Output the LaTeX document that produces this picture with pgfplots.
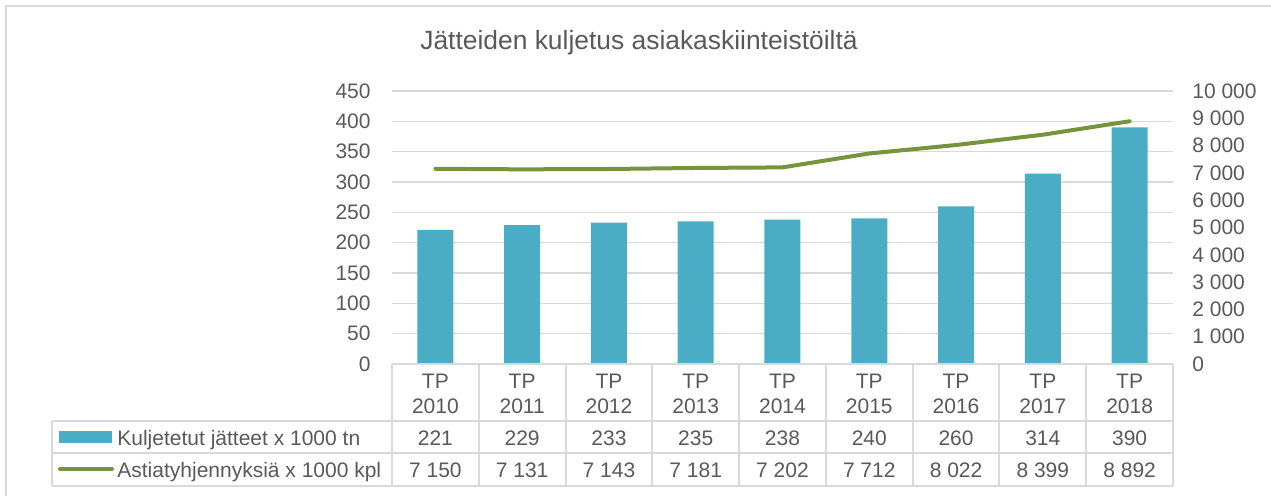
\documentclass[border=0pt]{standalone}
\usepackage{fontspec}
\setmainfont{Liberation Sans}
\usepackage{pgfplots}
\usepackage{pgfplotstable}
\pgfplotsset{compat=1.18}

\definecolor{barblue}{HTML}{4BACC6}
\definecolor{linegreen}{HTML}{77933C}
\definecolor{gridgray}{HTML}{D9D9D9}
\definecolor{txtgray}{HTML}{595959}

% jätteet (x 1000 tn) ja astiatyhjennykset (x 1000 kpl)
\pgfplotstableread{
x year tons visits
0 2010 221 7150
1 2011 229 7131
2 2012 233 7143
3 2013 235 7181
4 2014 238 7202
5 2015 240 7712
6 2016 260 8022
7 2017 314 8399
8 2018 390 8892
}\datatable

\newcommand{\chartfont}{\fontsize{10.5}{12}\selectfont}

\begin{document}
\begin{tikzpicture}
\pgfplotsset{
  base/.style={
    scale only axis, width=390.5pt, height=136.5pt,
    xmin=-0.5, xmax=8.5, xtick=\empty,
    axis line style={draw=none}, tick style={draw=none},
    clip=false,
    ticklabel style={font=\chartfont, text=txtgray, inner sep=0pt},
    /pgf/number format/assume math mode=true,
  },
}
\begin{axis}[base,
    ymin=0, ymax=450, ytick={0,50,...,450},
    ymajorgrids, grid style={gridgray, line width=0.75pt},
    yticklabel style={xshift=-10.5pt},
]
\addplot[ybar, bar width=0.415, fill=barblue, draw=none]
    table[x=x, y=tons] {\datatable};
\end{axis}
\begin{axis}[base,
    ymin=0, ymax=10000, ytick={0,1000,...,10000},
    scaled y ticks=false,
    axis y line*=right, axis x line*=bottom,
    yticklabel style={xshift=9.5pt},
    /pgf/number format/1000 sep={\ },
]
\addplot[linegreen, line width=2pt, line cap=round, line join=round, mark=none]
    table[x=x, y=visits] {\datatable};
\end{axis}

% data table and frame, in pixel units of the reference
\begin{scope}[x=0.5pt, y=-0.5pt, shift={(-392,-364)}, font=\chartfont, text=txtgray]
  \draw[gridgray, line width=1pt] (6,700) -- (6,6) -- (1600,6);
  \node[anchor=base, font=\fontsize{13.2}{15}\selectfont] at (639,49)
    {Jätteiden kuljetus asiakaskiinteistöiltä};

  \draw[gridgray, line width=1pt]
    (392,364) -- (1173,364)
    (52,421) -- (1173,421)
    (52,453) -- (1173,453)
    (52,486) -- (1173,486)
    (52,421) -- (52,486);
  \foreach \i in {0,...,9}{
    \pgfmathsetmacro\vx{392+\i*86.778}
    \draw[gridgray, line width=1pt] (\vx,364) -- (\vx,486);
  }
  \foreach \i in {0,...,8}{
    \pgfmathsetmacro\cx{392+(\i+0.5)*86.778}
    \pgfplotstablegetelem{\i}{year}\of\datatable
    \node[anchor=base] at (\cx,388) {TP};
    \node[anchor=base] at (\cx,413) {\pgfplotsretval};
    \pgfplotstablegetelem{\i}{tons}\of\datatable
    \node[anchor=base] at (\cx,445) {\pgfplotsretval};
    \pgfplotstablegetelem{\i}{visits}\of\datatable
    \node[anchor=base] at (\cx,477)
      {\pgfmathprintnumber[1000 sep={\ }, assume math mode=true]{\pgfplotsretval}};
  }

  \fill[barblue] (59,431) rectangle (112,443);
  \draw[linegreen, line width=2pt, line cap=round] (60,469) -- (112,469);
  \node[anchor=base west, inner sep=0pt] at (117,445) {Kuljetetut jätteet x 1000 tn};
  \node[anchor=base west, inner sep=0pt] at (117,477) {Astiatyhjennyksiä x 1000 kpl};

  \pgfresetboundingbox
  \useasboundingbox (0,0) rectangle (1271,495);
\end{scope}
\end{tikzpicture}
\end{document}
